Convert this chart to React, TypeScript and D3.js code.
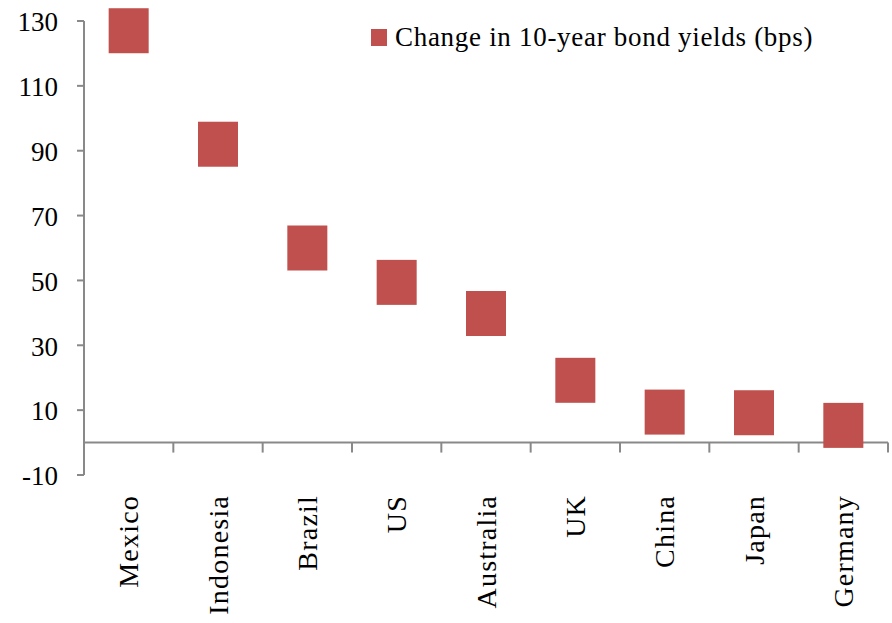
import React from "react";
import * as d3 from "d3";

const categories = ["Mexico", "Indonesia", "Brazil", "US", "Australia", "UK", "China", "Japan", "Germany"];
const values = [127, 92, 60, 49.4, 39.8, 19.2, 9.4, 9.2, 5.3];
const yTicks = [-10, 10, 30, 50, 70, 90, 110, 130];
const seriesName = "Change in 10-year bond yields (bps)";

const W = 892;
const H = 623;
const COLOR = "#C0504D";
const AXIS = "#898989";
const FONT = "'Liberation Serif', 'Times New Roman', serif";

export default function App() {
  const x = d3.scaleBand<string>().domain(categories).range([84, 888]).paddingInner(0).paddingOuter(0);
  const y = d3.scaleLinear().domain([-10, 130]).range([475, 21]);
  const bw = x.bandwidth();
  const y0 = y(0);
  const markW = 40;
  const markH = 45;

  return (
    <svg width={W} height={H} style={{ position: "absolute", left: 0, top: 0, background: "#fff" }} fontFamily={FONT}>
      <rect x={0} y={0} width={W} height={H} fill="#fff" />
      {/* y axis */}
      <line x1={84} x2={84} y1={y(130)} y2={y(-10)} stroke={AXIS} strokeWidth={2} />
      {yTicks.map((t) => (
        <g key={t}>
          <line x1={77} x2={84} y1={y(t)} y2={y(t)} stroke={AXIS} strokeWidth={2} />
          <text x={58} y={y(t)} dy="0.38em" textAnchor="end" fontSize={27} fill="#000">
            {t}
          </text>
        </g>
      ))}
      {/* x axis at zero */}
      <line x1={84} x2={888} y1={y0} y2={y0} stroke={AXIS} strokeWidth={2} />
      {categories.map((c) => (
        <line key={"t" + c} x1={(x(c) as number) + bw} x2={(x(c) as number) + bw} y1={y0} y2={y0 + 10} stroke={AXIS} strokeWidth={2} />
      ))}
      {/* markers */}
      {categories.map((c, i) => {
        const cx = (x(c) as number) + bw / 2;
        const cy = y(values[i]);
        return <rect key={"m" + c} x={cx - markW / 2} y={cy - markH / 2} width={markW} height={markH} fill={COLOR} />;
      })}
      {/* category labels */}
      {categories.map((c) => {
        const cx = (x(c) as number) + bw / 2;
        return (
          <text
            key={"l" + c}
            transform={`translate(${cx},495) rotate(-90)`}
            dy="0.35em"
            textAnchor="end"
            fontSize={28}
            letterSpacing={1.2}
            fill="#000"
          >
            {c}
          </text>
        );
      })}
      {/* legend */}
      <rect x={371} y={29} width={16} height={17} fill={COLOR} />
      <text x={395} y={46} fontSize={27} letterSpacing={0.7} fill="#000">
        {seriesName}
      </text>
    </svg>
  );
}
